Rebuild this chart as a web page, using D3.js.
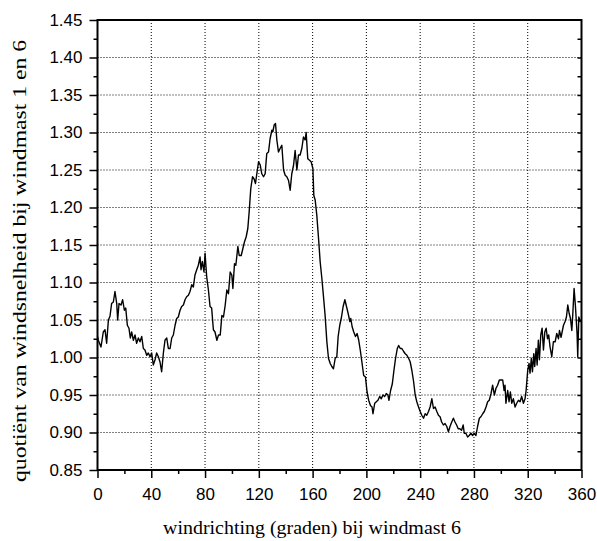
<!DOCTYPE html>
<html><head><meta charset="utf-8">
<script src="https://cdn.jsdelivr.net/npm/d3@7"></script>
<style>body{margin:0;background:#fff}</style>
</head><body><svg id="c" width="597" height="541"></svg>
<script>
const direction = [0,0.6,2.6,4.3,5.6,6.8,8.1,9.3,10.5,11.8,13,14.3,15,16,17.5,18.7,20,21,22.2,23.4,24.4,25.4,26.7,27.9,29.1,30.4,31.6,32.9,34.1,35.3,36.6,37.8,39.1,40.3,41.5,42.8,44,45.3,46.5,47.7,49,50.2,51.5,52.7,54,55.2,56.4,57.7,58.9,60.1,61.4,62.6,63.9,65.1,66.3,67.6,68.8,70.1,71.3,72.5,73.8,75,76.3,77,78,79.2,80,81.2,82.5,83.7,84.9,86.2,87.4,88.8,90,91.3,92.5,93.7,95,96.2,97.4,98.7,99.9,100.7,101.9,102.9,104.4,105.4,106.9,108.1,109.3,110.6,111.8,112.8,114,115.3,116.5,117.5,118.5,119.8,121,122.2,123.5,124.7,125.9,127.2,128.4,129.7,130.4,131.4,132.4,133.4,134.6,135.9,137.1,138.4,139.6,140.8,142.1,143.3,144.5,145.8,147,148.3,149.5,150.7,152,153.2,154.4,155.2,156.4,157.7,158.9,160.2,160.9,161.9,163.1,164.4,165.6,166.9,168.1,169.3,170.6,171.8,173.1,174.3,175.5,176.8,178,179,180.2,181.5,182.7,184,185.2,186.4,187.7,188.4,189.4,190.6,191.9,193.1,194.3,195.6,196.8,198,199.3,200.5,201.7,203,204.2,204.9,206.2,207.4,208.6,209.9,211.1,212.3,213.6,214.8,216,216.8,218,219.3,220.5,221.7,223,224,225.2,226.4,227.7,228.9,230.1,231.4,232.6,233.8,235.1,236.3,237.5,238.8,240,241.2,242.5,243.7,244.9,246.2,247.4,248.7,249.9,251.1,252.4,253.6,254.8,256,257.3,258.5,259.8,261,262.2,263.5,264.7,265.9,267.1,268.3,269.5,270.8,272,272.8,274,275.3,276.5,277.8,279,280.2,281.5,282.7,284,285.2,286.5,287.7,289,290.2,291.4,292.7,293.9,295.2,296.4,297.6,298.9,300.1,301.4,302.4,303.1,303.8,305.1,306.1,307.1,308.1,309.3,310.6,311.8,313.1,314.3,315.5,316.8,318,318.8,320,321,321.7,322.7,323.5,324.5,325.2,326.2,327,327.9,328.7,329.7,330.7,331.7,332.7,333.7,334.7,335.6,336.6,337.9,339.1,340.4,341.6,342.9,343.6,344.8,345.8,346.6,347.8,348.8,349.8,350.8,351.8,352.8,353.5,354.5,355.5,356.7,357.2,358,359,360];
const quotient = [1.028,1.023,1.014,1.034,1.037,1.019,1.05,1.055,1.072,1.074,1.088,1.072,1.05,1.072,1.07,1.077,1.063,1.066,1.043,1.039,1.026,1.034,1.023,1.03,1.019,1.026,1.021,1.028,1.012,1.01,1.003,1.006,1.001,1.006,0.99,0.997,1.006,1.001,0.994,0.981,1.006,1.023,1.026,1.012,1.012,1.026,1.03,1.043,1.052,1.054,1.063,1.068,1.07,1.077,1.081,1.083,1.088,1.097,1.094,1.11,1.117,1.123,1.134,1.117,1.128,1.114,1.139,1.108,1.09,1.068,1.066,1.037,1.034,1.023,1.03,1.03,1.056,1.054,1.07,1.09,1.085,1.114,1.11,1.092,1.125,1.123,1.148,1.136,1.136,1.145,1.154,1.161,1.172,1.194,1.225,1.241,1.238,1.232,1.245,1.261,1.257,1.245,1.241,1.245,1.272,1.274,1.292,1.303,1.301,1.31,1.312,1.29,1.274,1.279,1.283,1.25,1.243,1.241,1.236,1.223,1.245,1.256,1.276,1.25,1.27,1.27,1.279,1.294,1.29,1.30,1.265,1.263,1.261,1.252,1.216,1.21,1.19,1.159,1.128,1.105,1.081,1.056,1.021,0.999,0.992,0.988,0.985,0.999,1.001,1.028,1.043,1.054,1.068,1.077,1.068,1.059,1.048,1.052,1.041,1.034,1.028,1.032,1.023,1.008,0.992,0.976,0.974,0.954,0.943,0.936,0.934,0.925,0.939,0.941,0.943,0.948,0.945,0.95,0.948,0.952,0.95,0.943,0.956,0.965,0.983,0.999,1.012,1.016,1.012,1.012,1.008,1.005,1.003,0.999,0.994,0.983,0.968,0.95,0.941,0.934,0.928,0.923,0.919,0.925,0.923,0.928,0.934,0.945,0.932,0.934,0.928,0.923,0.921,0.914,0.91,0.912,0.908,0.901,0.908,0.914,0.919,0.914,0.910,0.905,0.905,0.903,0.910,0.899,0.899,0.894,0.896,0.899,0.896,0.899,0.896,0.908,0.919,0.921,0.925,0.928,0.934,0.941,0.943,0.952,0.963,0.95,0.959,0.963,0.97,0.97,0.97,0.956,0.963,0.939,0.956,0.941,0.954,0.939,0.945,0.934,0.939,0.943,0.941,0.948,0.939,0.945,0.956,0.983,0.992,0.979,0.999,0.981,1.005,0.988,1.012,0.99,1.023,0.997,1.03,1.039,1.01,1.034,1.039,1.025,1.03,1.014,1.001,1.021,1.021,1.032,1.025,1.036,1.027,1.036,1.043,1.048,1.054,1.07,1.059,1.052,1.036,1.057,1.092,1.068,1.032,1.001,1.054,1.048,1.05];
const xTicks = [0,40,80,120,160,200,240,280,320,360];
const yTicks = [0.85,0.90,0.95,1.00,1.05,1.10,1.15,1.20,1.25,1.30,1.35,1.40,1.45];
const xTitle = "windrichting (graden) bij windmast 6";
const yTitle = "quotiënt van windsnelheid bij windmast 1 en 6";

const svg = d3.select("#c");
const L = 97.5, R = 581.5, T = 20, B = 470;
const x = d3.scaleLinear().domain([0,360]).range([L,R]);
const y = d3.scaleLinear().domain([0.85,1.45]).range([B,T]);

// grid
const g = svg.append("g");
g.selectAll(".gx").data(xTicks.slice(1,-1)).enter().append("line")
  .attr("x1",d=>x(d)).attr("x2",d=>x(d)).attr("y1",T).attr("y2",B)
  .attr("stroke","#000").attr("stroke-width",1).attr("stroke-dasharray","1,2");
g.selectAll(".gy").data(yTicks.slice(1,-1)).enter().append("line")
  .attr("x1",L).attr("x2",R).attr("y1",d=>y(d)).attr("y2",d=>y(d))
  .attr("stroke","#000").attr("stroke-width",1).attr("stroke-dasharray","1,2");

// data line
const pts = direction.map((d,i)=>[d,quotient[i]]);
svg.append("path").datum(pts)
  .attr("d", d3.line().x(d=>x(d[0])).y(d=>y(d[1])))
  .attr("fill","none").attr("stroke","#000").attr("stroke-width",1.4).attr("stroke-linejoin","round");

const font = "'Liberation Sans', Arial, sans-serif";
// bottom axis
const xMinor = d3.range(20,360,40);
const ax = svg.append("g").attr("transform",`translate(0,${B})`)
  .call(d3.axisBottom(x).tickValues(xTicks).tickSize(8).tickPadding(10).tickFormat(d3.format("d")));
ax.select(".domain").remove();
ax.selectAll("line").attr("stroke-width",1.5);
ax.selectAll("text").attr("font-family",font).attr("font-size","17px").attr("fill","#000");
svg.append("g").attr("transform",`translate(0,${B})`)
  .call(d3.axisBottom(x).tickValues(xMinor).tickSize(4).tickFormat(""))
  .call(s=>{s.select(".domain").remove(); s.selectAll("line").attr("stroke-width",1.5);});

// left axis
const ay = svg.append("g").attr("transform",`translate(${L},0)`)
  .call(d3.axisLeft(y).tickValues(yTicks).tickSize(8).tickPadding(7).tickFormat(d3.format(".2f")));
ay.select(".domain").remove();
ay.selectAll("line").attr("stroke-width",1.5);
ay.selectAll("text").attr("font-family",font).attr("font-size","17px").attr("fill","#000");
const yMinor = d3.range(0,12).map(i=>0.875+i*0.05);
svg.append("g").attr("transform",`translate(${L},0)`)
  .call(d3.axisLeft(y).tickValues(yMinor).tickSize(4).tickFormat(""))
  .call(s=>{s.select(".domain").remove(); s.selectAll("line").attr("stroke-width",1.5);});

// right axis inward ticks
const yAll = d3.range(1,24).map(i=>0.85+i*0.025);
svg.append("g").attr("transform",`translate(${R},0)`)
  .call(d3.axisLeft(y).tickValues(yAll).tickSize(4).tickFormat(""))
  .call(s=>{s.select(".domain").remove(); s.selectAll("line").attr("stroke-width",1.5);})
  .selectAll("line").attr("x2",-4);

// frame
svg.append("rect").attr("x",L).attr("y",T).attr("width",R-L).attr("height",B-T)
  .attr("fill","none").attr("stroke","#000").attr("stroke-width",2);

// titles
svg.append("text").attr("x",312).attr("y",534).attr("text-anchor","middle")
  .attr("font-family","'Liberation Serif','Times New Roman',serif").attr("font-size","19.5px")
  .attr("textLength",298).attr("lengthAdjust","spacingAndGlyphs").text(xTitle);
svg.append("text").attr("transform",`translate(26,261) rotate(-90)`).attr("text-anchor","middle")
  .attr("font-family","'Liberation Serif','Times New Roman',serif").attr("font-size","19.5px")
  .attr("textLength",442).attr("lengthAdjust","spacingAndGlyphs").text(yTitle);
</script></body></html>
